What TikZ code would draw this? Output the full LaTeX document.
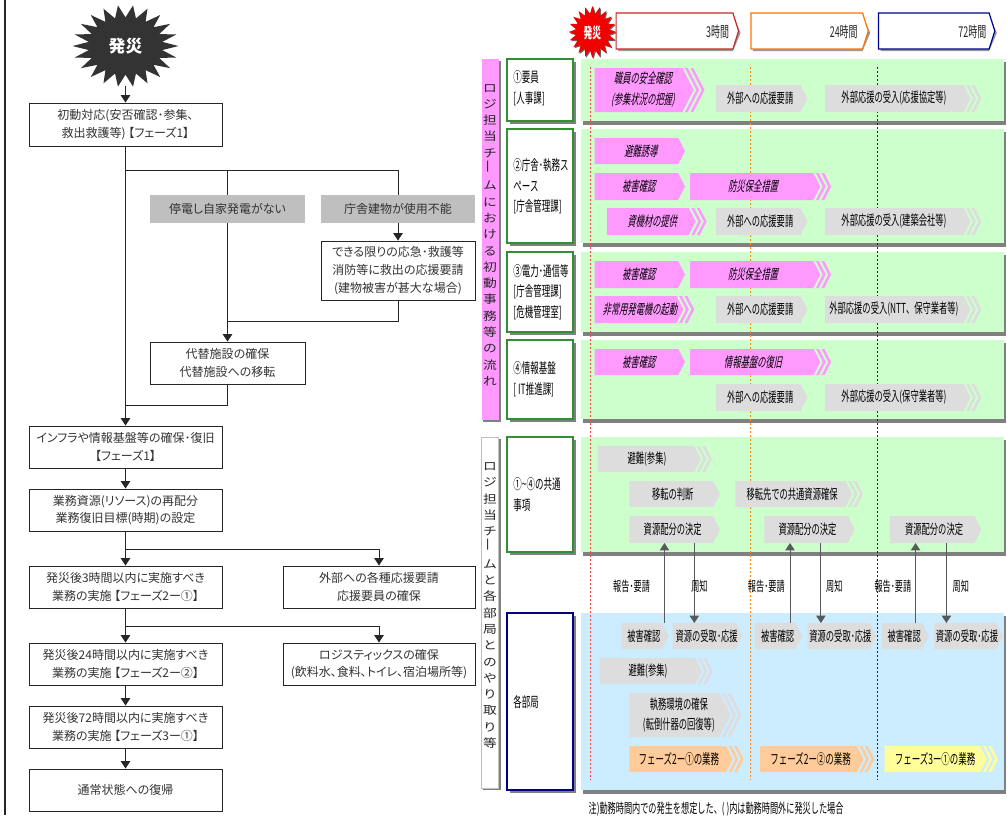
\documentclass[tikz,border=0pt]{standalone}
\usepackage{fontspec}
\setmainfont[RawFeature=+palt]{Noto Sans CJK JP}
\newfontfamily\nar[FakeStretch=0.6]{Noto Sans CJK JP}
\newfontfamily\narit[FakeStretch=0.6,FakeSlant=0.2]{Noto Sans CJK JP}
\newfontfamily\wide[FakeStretch=1.2]{Noto Sans CJK JP}
\usetikzlibrary{arrows.meta}
\definecolor{pnk}{HTML}{FF99FF}
\definecolor{grn}{HTML}{CCFFCC}
\definecolor{blu}{HTML}{CCECFF}
\definecolor{gry}{HTML}{DDDDDD}
\definecolor{org}{HTML}{FFCC99}
\definecolor{yel}{HTML}{FFFF99}
\definecolor{shd}{HTML}{808080}
\definecolor{dred}{HTML}{FF4444}
\definecolor{dorg}{HTML}{FF8A20}
\definecolor{dblu}{HTML}{1010D0}
\tikzset{
  flowbox/.style={draw=black!85,line width=.7pt,fill=white,align=center,text=black!80,inner sep=0pt,font=\fontsize{9pt}{13.3pt}\selectfont},
  greybox/.style={fill=black!25,align=center,text=black!80,inner sep=0pt,font=\fontsize{9pt}{13.3pt}\selectfont},
  conn/.style={line width=.7pt,draw=black!85},
  connarrow/.style={conn,-{Triangle[length=5.5pt,width=7pt]}},
  labgrn/.style={draw=green!45!black!80,line width=1.1pt,fill=white,inner sep=0pt},
  labblu/.style={draw=blue!50!black,line width=1.1pt,fill=white,inner sep=0pt},
  labtext/.style={anchor=west,inner sep=0pt,font=\nar\fontsize{10.6pt}{15.5pt}\selectfont,align=left,text=black},
  pinkarrow/.style={fill=pnk,text=black,font=\narit\fontsize{10.35pt}{15.8pt}\selectfont},
  greyarrow/.style={fill=gry,text=black,font=\nar\fontsize{10.35pt}{15pt}\selectfont},
  orgarrow/.style={fill=org,text=black,font=\nar\fontsize{10.6pt}{15pt}\selectfont},
  yelarrow/.style={fill=yel,text=black,font=\nar\fontsize{10.6pt}{15pt}\selectfont},
  arrlabel/.style={inner sep=0pt,font=\nar\fontsize{10.2pt}{12pt}\selectfont,text=black},
  dashline/.style={line width=.75pt,dash pattern=on 1.6pt off 1.4pt},
  headtext/.style={anchor=east,inner sep=0pt,font=\nar\fontsize{11.2pt}{12pt}\selectfont,text=black!85},
}
% name x1 y1 x2 y2 style text
\newcommand\bx[7]{\node[#6,minimum width={(#4-#2)*0.75pt},minimum height={(#5-#3)*0.75pt}] (#1) at ({(#2+#4)/2},{(#3+#5)/2}) {#7};}
% name x1 y1 x2 y2 style nchev textx text
\newcommand\arr[9]{%
  \begingroup
  \pgfmathsetmacro\ym{(#3+#5)/2}%
  \pgfmathsetmacro\dd{0.25*(#5-#3)}%
  \pgfmathsetmacro\tp{#4-#7*5.3}%
  \pgfmathsetmacro\bd{\tp-\dd}%
  \fill[#6] (#2,#3) -- (\bd,#3) -- (\tp,\ym) -- (\bd,#5) -- (#2,#5) -- cycle;
  \ifnum#7>0
    \foreach \k in {1,...,#7}{%
      \pgfmathsetmacro\oo{\k*5.3}%
      \pgfmathsetmacro\ii{\oo-2.8}%
      \fill[#6] ({\bd+\ii},#3) -- ({\bd+\oo},#3) -- ({\tp+\oo},\ym) -- ({\bd+\oo},#5) -- ({\bd+\ii},#5) -- ({\tp+\ii},\ym) -- cycle;
    }%
  \fi
  \endgroup
  \node[#6,fill=none,align=center,inner sep=0pt] (#1) at (#8,{(#3+#5)/2}) {#9};}
% cx cy rx ry n style
\newcommand\burst[6]{\fill[#6] plot[samples at={0,...,\numexpr2*#5-1\relax},variable=\k] ({#1+#3*(1-0.3*mod(\k,2))*cos(\k*180/#5)},{#2+#4*(1-0.3*mod(\k,2))*sin(\k*180/#5)}) -- cycle;}
% x1 y1 x2 y2 colour
\newcommand\head[6]{%
  \fill[black!40] ({#1+2},{#2+2}) -- ({#3-5.5},{#2+2}) -- ({#3+2},{(#2+#4)/2+2}) -- ({#3-5.5},{#4+2}) -- ({#1+2},{#4+2}) -- cycle;
  \draw[#5,line width=.9pt,fill=white] (#1,#2) -- ({#3-5.5},#2) -- (#3,{(#2+#4)/2}) -- ({#3-5.5},#4) -- (#1,#4) -- cycle;
  #6}
\begin{document}
\begin{tikzpicture}[x=0.75pt,y=-0.75pt]
\useasboundingbox (0,0) rectangle (1007,815);
\fill[white] (0,0) rectangle (1007,815);
\coordinate (ba) at (5,0); \coordinate (bb) at (5,815);
\draw[line width=1.1pt,black!85] (ba) -- (bb);
% left flow
\burst{125.5}{46}{53}{41}{22}{fill=black!80}
\node[inner sep=0pt,minimum width=79pt,minimum height=60pt,text=white,font=\bfseries\fontsize{12.6pt}{14pt}\selectfont] (quake) at (125.5,46) {発災};
\bx{b1}{29}{103}{222}{146}{flowbox}{初動対応(安否確認･参集、\\救出救護等) 【フェーズ1】}
\bx{g1}{150}{195}{305}{223}{greybox}{停電し自家発電がない}
\bx{g2}{321}{195}{475}{223}{greybox}{庁舎建物が使用不能}
\bx{em}{321}{241}{475}{300}{flowbox}{できる限りの応急･救護等\\消防等に救出の応援要請\\(建物被害が甚大な場合)}
\bx{alt}{150}{342}{305}{384}{flowbox}{代替施設の確保\\代替施設への移転}
\bx{infra}{29}{426}{222}{468}{flowbox}{インフラや情報基盤等の確保･復旧\\【フェーズ1】}
\bx{res}{29}{489}{222}{531}{flowbox}{業務資源(リソース)の再配分\\業務復旧目標(時期)の設定}
\bx{t3}{29}{566}{222}{608}{flowbox}{発災後3時間以内に実施すべき\\業務の実施 【フェーズ2ー①】}
\bx{ext}{283}{566}{475}{608}{flowbox}{外部への各種応援要請\\応援要員の確保}
\bx{t24}{29}{643}{222}{685}{flowbox}{発災後24時間以内に実施すべき\\業務の実施 【フェーズ2ー②】}
\bx{logi}{283}{643}{475}{685}{flowbox}{ロジスティックスの確保\\(飲料水、食料、トイレ、宿泊場所等)}
\bx{t72}{29}{706}{222}{748}{flowbox}{発災後72時間以内に実施すべき\\業務の実施 【フェーズ3ー①】}
\bx{norm}{29}{769}{222}{811}{flowbox}{通常状態への復帰}
\coordinate (j1) at (125.5,170);
\coordinate (j2) at (227.5,321);
\coordinate (j3) at (125.5,405);
\coordinate (j4) at (125.5,549);
\coordinate (j5) at (125.5,626);
\draw[connarrow] (quake) -- (b1);
\draw[connarrow] (b1) -- (infra);
\draw[conn] (j1) -| (g1);
\draw[conn] (j1) -| (g2);
\draw[connarrow] (g1) -- (alt);
\draw[connarrow] (g2) -- (em);
\draw[conn] (em) |- (j2);
\draw[conn] (alt) |- (j3);
\draw[connarrow] (infra) -- (res);
\draw[connarrow] (res) -- (t3);
\draw[connarrow] (j4) -| (ext);
\draw[connarrow] (t3) -- (t24);
\draw[connarrow] (j5) -| (logi);
\draw[connarrow] (t24) -- (t72);
\draw[connarrow] (t72) -- (norm);
\begin{scope}[x=0.77175pt,xshift=-10.2225pt]
% timeline header
\head{612}{13}{731}{49}{red!75!black!85}{\node[headtext] (h3) at (722,32) {3時間};}
\head{743}{13}{857}{49}{orange!90!red}{\node[headtext] (h24) at (847,32) {24時間};}
\head{867}{13}{980}{49}{blue!60!black}{\node[headtext] (h72) at (972,32) {72時間};}
\burst{590}{33}{23}{26}{20}{fill=black!60}
\burst{589}{32}{23}{26}{20}{fill=red!95!black}
\node[inner sep=0pt,text=white,font=\nar\bfseries\fontsize{11pt}{12pt}\selectfont] (quake2) at (589,33) {発災};
% vertical strips
\fill[shd] (483,61) rectangle (500,422);
\bx{vs1}{481}{59}{498}{420}{fill=pnk,inner sep=0pt}{}
\node[inner sep=0pt,align=center,text=black!85,font=\wide\fontsize{8.6pt}{12.22pt}\selectfont] (vt1) at (489.5,235) {ロ\\ジ\\担\\当\\チ\\\rotatebox{90}{ー}\\ム\\に\\お\\け\\る\\初\\動\\事\\務\\等\\の\\流\\れ};
\fill[shd] (483,439) rectangle (500,790);
\bx{vs2}{481}{437}{498}{788}{fill=white,draw=black!25,inner sep=0pt}{}
\node[inner sep=0pt,align=center,text=black!85,font=\wide\fontsize{8.6pt}{12.22pt}\selectfont] (vt2) at (489.5,605.5) {ロ\\ジ\\担\\当\\チ\\\rotatebox{90}{ー}\\ム\\と\\各\\部\\局\\と\\の\\や\\り\\取\\り\\等};
% label boxes and bands
\foreach \ya/\yb/\sty/\bnd in {59/121/labgrn/grn,129/243/labgrn/grn,252/332/labgrn/grn,340/419/labgrn/grn,437/552/labgrn/grn,613/790/labblu/blu}{
  \fill[shd] (508.5,\ya+3) rectangle (573,\yb+3);
  \node[\sty,minimum width=49.4pt,minimum height={(\yb-\ya)*0.75pt}] at (538,{(\ya+\yb)/2}) {};
  \fill[shd] (580,\ya+3) rectangle (991,\yb+3.5);
  \fill[\bnd] (578,\ya) rectangle (989,\yb);
}
\node[labtext] (l1) at (512,88.5) {①要員\\{[}人事課{]}};
\node[labtext] (l2) at (512,186.5) {②庁舎･執務ス\\ペース\\{[}庁舎管理課{]}};
\node[labtext] (l3) at (512,292) {③電力･通信等\\{[}庁舎管理課{]}\\{[}危機管理室{]}};
\node[labtext] (l4) at (512,379) {④情報基盤\\{[} IT推進課{]}};
\node[labtext] (l5) at (512,494.5) {①\textasciitilde④の共通\\事項};
\node[labtext] (l6) at (512,702) {各部局};
% dashed lines
\coordinate (da) at (587,67); \coordinate (db) at (587,780);
\coordinate (oa) at (743,67); \coordinate (ob) at (743,780);
\coordinate (ba2) at (866,67); \coordinate (bb2) at (866,780);
\draw[dashline,draw=dred] (da) -- (db);
\draw[dashline,draw=dorg] (oa) -- (ob);
\draw[dashline,draw=dblu] (ba2) -- (bb2);
% band 1
\arr{a1}{591}{68}{698}{112}{pinkarrow}{2}{638}{職員の安全確認\\(参集状況の把握)}
\arr{a2}{709}{85}{798}{112}{greyarrow}{0}{752}{外部への応援要請}
\arr{a3}{815}{85}{967}{112}{greyarrow}{2}{882}{外部応援の受入(応援協定等)}
% band 2
\arr{a4}{591}{138}{679}{164}{pinkarrow}{0}{636}{避難誘導}
\arr{a5}{591}{173}{679}{200}{pinkarrow}{0}{634}{被害確認}
\arr{a6}{684}{173}{821}{200}{pinkarrow}{2}{745}{防災保全措置}
\arr{a7}{603}{208}{700}{235}{pinkarrow}{2}{647}{資機材の提供}
\arr{a8}{709}{208}{798}{235}{greyarrow}{0}{752}{外部への応援要請}
\arr{a9}{815}{208}{967}{235}{greyarrow}{2}{882}{外部応援の受入(建築会社等)}
% band 3
\arr{c1}{591}{261}{679}{288}{pinkarrow}{0}{634}{被害確認}
\arr{c2}{684}{261}{821}{288}{pinkarrow}{2}{745}{防災保全措置}
\arr{c3}{591}{296}{688}{323}{pinkarrow}{2}{635}{非常用発電機の起動}
\arr{c4}{709}{296}{798}{323}{greyarrow}{0}{752}{外部への応援要請}
\arr{c5}{815}{296}{967}{323}{greyarrow}{2}{882}{外部応援の受入(NTT、保守業者等)}
% band 4
\arr{d1}{591}{349}{679}{375}{pinkarrow}{0}{634}{被害確認}
\arr{d2}{684}{349}{821}{375}{pinkarrow}{2}{745}{情報基盤の復旧}
\arr{d3}{709}{384}{798}{411}{greyarrow}{0}{752}{外部への応援要請}
\arr{d4}{815}{384}{967}{411}{greyarrow}{2}{882}{外部応援の受入(保守業者等)}
% band 5
\arr{e1}{594}{446}{705}{472}{greyarrow}{2}{642}{避難(参集)}
\arr{e2}{625}{481}{713}{507}{greyarrow}{0}{667}{移転の判断}
\arr{e3}{728}{481}{852}{507}{greyarrow}{2}{783}{移転先での共通資源確保}
\arr{e4}{625}{516}{713}{543}{greyarrow}{0}{667}{資源配分の決定}
\arr{e5}{756}{516}{844}{543}{greyarrow}{0}{798}{資源配分の決定}
\arr{e6}{878}{516}{967}{543}{greyarrow}{0}{921}{資源配分の決定}
% band 6
\arr{f1}{617}{623}{663}{649}{greyarrow}{0}{639}{被害確認}
\arr{f2}{667}{623}{735}{649}{greyarrow}{0}{700}{資源の受取･応援}
\arr{f3}{747}{623}{793}{649}{greyarrow}{0}{769}{被害確認}
\arr{f4}{798}{623}{865}{649}{greyarrow}{0}{830}{資源の受取･応援}
\arr{f5}{870}{623}{916}{649}{greyarrow}{0}{892}{被害確認}
\arr{f6}{921}{623}{988}{649}{greyarrow}{0}{953}{資源の受取･応援}
\arr{f7}{596}{658}{706}{684}{greyarrow}{2}{643}{避難(参集)}
\arr{f8}{625}{693}{734}{737}{greyarrow}{2}{673}{執務環境の確保\\(転倒什器の回復等)}
\arr{f9}{625}{746}{736}{772}{orgarrow}{2}{673}{フェーズ2ー①の業務}
\arr{f10}{752}{746}{863}{772}{orgarrow}{2}{801}{フェーズ2ー②の業務}
\arr{f11}{873}{746}{983}{772}{yelarrow}{2}{922}{フェーズ3ー①の業務}
% report arrows
\foreach \n/\xx in {p1/659,p2/781,p3/903}{
  \coordinate (\n a) at (\xx,623); \coordinate (\n b) at (\xx,543);
  \draw[connarrow,draw=black!65] (\n a) -- (\n b);
}
\foreach \n/\xx in {q1/688,q2/811,q3/933}{
  \coordinate (\n a) at (\xx,543); \coordinate (\n b) at (\xx,623);
  \draw[connarrow,draw=black!65] (\n a) -- (\n b);
}
\node[arrlabel] (r1) at (627,586) {報告･要請};
\node[arrlabel] (r2) at (693,586) {周知};
\node[arrlabel] (r3) at (758,586) {報告･要請};
\node[arrlabel] (r4) at (824,586) {周知};
\node[arrlabel] (r5) at (881,586) {報告･要請};
\node[arrlabel] (r6) at (947,586) {周知};
\node[arrlabel,anchor=west] (note) at (585,809) {注)勤務時間内での発生を想定した、(  )内は勤務時間外に発災した場合};
\end{scope}
\end{tikzpicture}
\end{document}
